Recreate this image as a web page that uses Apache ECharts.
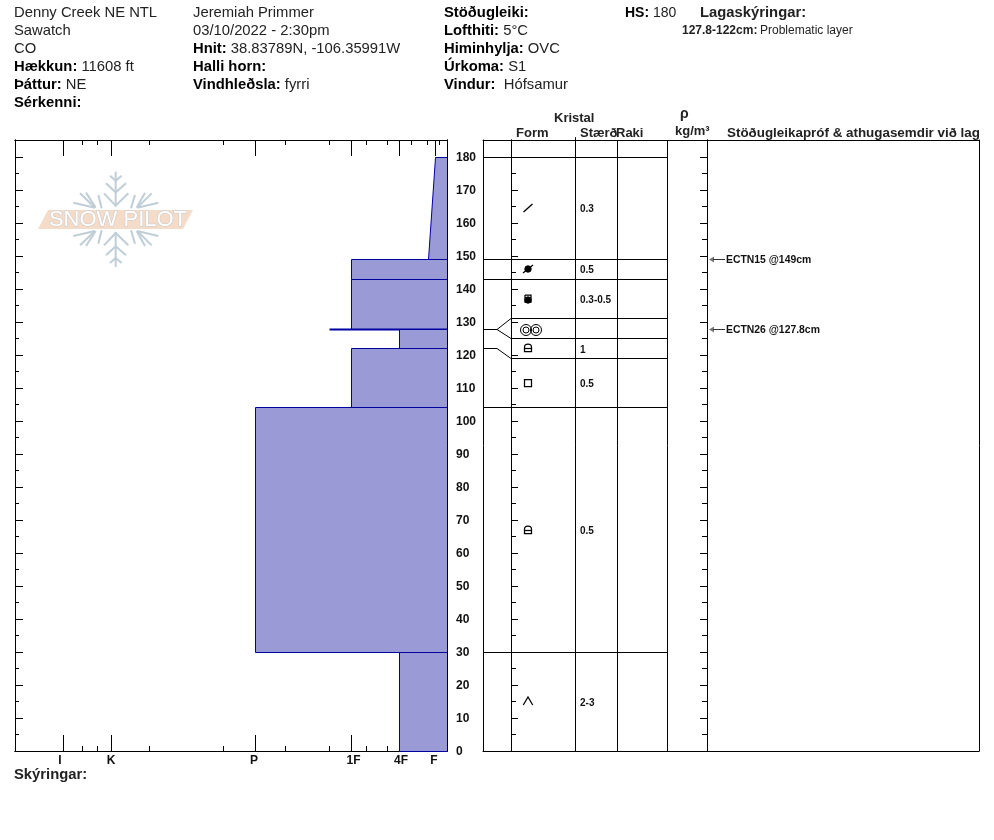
<!DOCTYPE html>
<html><head><meta charset="utf-8">
<style>html,body{margin:0;padding:0;background:#fff}#c{width:994px;height:840px}</style>
<script src="https://cdn.jsdelivr.net/npm/echarts@6/dist/echarts.min.js"></script>
</head><body><div id="c"></div>
<script>
// ---- header text
const headerCol1 = ['Denny Creek NE NTL', 'Sawatch', 'CO', '{b|Hækkun:} 11608 ft', '{b|Þáttur:} NE', '{b|Sérkenni:}'];
const headerCol2 = ['Jeremiah Primmer', '03/10/2022 - 2:30pm', '{b|Hnit:} 38.83789N, -106.35991W', '{b|Halli horn:}', '{b|Vindhleðsla:} fyrri'];
const headerCol3 = ['{b|Stöðugleiki:}', '{b|Lofthiti:} 5°C', '{b|Himinhylja:} OVC', '{b|Úrkoma:} S1', '{b|Vindur:}  Hófsamur'];
// ---- hardness scale
const hardnessNames = ['I', 'K', 'P', '1F', '4F', 'F'];
const hardnessTicks = [48, 96, 240, 336, 384, 420];
const hardnessLabelAt = [45, 96, 239, 338.5, 386, 419];
const hardnessMinorTicks = [67, 82.5, 134.5, 208.5, 270.5, 314, 351.5, 372.5, 396.5, 412.5, 424.5];
// ---- layers, top to bottom: real depths (cm)
const layerTops = [180, 149, 143, 127.8, 127.8, 122, 104, 30];
const layerBottoms = [149, 143, 127.8, 127.8, 122, 104, 30, 0];
const hardnessTop = [420, 336, 336, 314, 384, 336, 240, 384];
const hardnessBottom = [413, 336, 336, 314, 384, 336, 240, 384];
// ---- crystal table rows: spread depths used in the table
const tableTops = [180, 149, 143, 131, 125, 119, 104, 30];
const tableBottoms = [149, 143, 131, 125, 119, 104, 30, 0];
const crystalForms = ['slash', 'slashDot', 'cupDot', 'melt', 'facet', 'square', 'facet', 'caret'];
const crystalSizes = ['0.3', '0.5', '0.3-0.5', '', '1', '0.5', '0.5', '2-3'];
const testDepths = [149, 127.8];
const testLabels = ['ECTN15 @149cm', 'ECTN26 @127.8cm'];
// ---- height axis
const depthMax = 185.15;
const depthMajor = [0,10,20,30,40,50,60,70,80,90,100,110,120,130,140,150,160,170,180];
const depthMinor = [5,15,25,35,45,55,65,75,85,95,105,115,125,135,145,155,165,175];
// ---- table columns, in panel units
const columnStops = [28, 92, 134, 184, 224];

const FONT = '"Liberation Sans", Arial, sans-serif';
const BLACK = '#000';
const NAVY = '#0000a0';
const FILL = '#9a9ad6';
const crisp = v => Math.round(v) + 0.5;
const crispY = v => Math.floor(v + 0.2) + 0.5;

function txt(x, y, text, size, bold, extra) {
  return Object.assign({
    type: 'text', x, y, silent: true,
    style: {
      text, fill: '#222', font: (bold ? 'bold ' : '') + size + 'px ' + FONT,
      textVerticalAlign: 'middle', verticalAlign: 'middle',
      rich: { b: { fontWeight: 'bold', fontSize: size, fontFamily: FONT, fill: '#000', color: '#000' } }
    }
  }, extra || {});
}
const graphics = [];
const rowY = i => 13 + i * 18;
const HSIZE = 14.8;
headerCol1.forEach((t, i) => graphics.push(txt(14, rowY(i), t, HSIZE)));
headerCol2.forEach((t, i) => graphics.push(txt(193, rowY(i), t, HSIZE)));
headerCol3.forEach((t, i) => graphics.push(txt(444, rowY(i), t, HSIZE)));
graphics.push(txt(625, 13, '{b|HS:} 180', 14));
graphics.push(txt(700, 13, 'Lagaskýringar:', HSIZE, true));
graphics.push(txt(682, 31, '127.8-122cm:', 12, true));
graphics.push(txt(760, 31, 'Problematic layer', 12));
graphics.push(txt(554, 118, 'Kristal', 13, true));
graphics.push(txt(516, 133, 'Form', 13, true));
graphics.push(txt(580, 133, 'Stærð', 13, true));
graphics.push(txt(616, 133, 'Raki', 13, true));
graphics.push(txt(680, 114, 'ρ', 14, true));
graphics.push(txt(675, 131, 'kg/m³', 13, true));
graphics.push(txt(727, 133, 'Stöðugleikapróf & athugasemdir við lag', 13.4, true));
graphics.push(txt(14, 775, 'Skýringar:', HSIZE, true));

// Snow Pilot logo
(function () {
  const C = '#bfced7';
  const seg = (pts, w) => ({ type: 'polyline', silent: true,
    shape: { points: pts.map(p => [30 + p[0] / 3, 160 + p[1] / 3]) },
    style: { stroke: C, lineWidth: w || 2, fill: null } });
  const arms = [
    [[257,35],[257,140]], [[240,47],[257,62],[275,47]], [[228,70],[257,97],[288,70]], [[222,100],[257,137],[295,100]],
    [[130,128],[195,143]], [[150,100],[195,143]], [[168,98],[197,143]], [[205,105],[215,145]],
    [[385,128],[322,143]], [[365,100],[322,143]], [[345,98],[320,143]], [[315,105],[303,145]]
  ];
  arms.forEach(a => {
    graphics.push(seg(a));
    graphics.push(seg(a.map(p => [p[0], 356 - p[1]])));
  });
  graphics.push({ type: 'polygon', silent: true,
    shape: { points: [[48,210],[193,210],[183,229],[38,229]] },
    style: { fill: '#f4dcc9' } });
  graphics.push({ type: 'text', x: 118, y: 219.5, silent: true,
    style: { text: 'SNOW PILOT', align: 'center', verticalAlign: 'middle', textAlign: 'center', textVerticalAlign: 'middle',
      font: '22px ' + FONT, fill: '#fff', stroke: '#c3c8cc', lineWidth: 1 } });
})();

const tickAxis = (base, common) => Object.assign({}, common, base);
const xCommon0 = { gridIndex: 0, type: 'value', min: 0, max: 432, splitLine: { show: false },
  axisLine: { show: true, onZero: false, lineStyle: { color: BLACK, width: 1 } } };
const noLabel = { show: false };
const xLong = (pos, showLabels) => tickAxis({
  position: pos,
  axisTick: { show: true, inside: true, length: 16, lineStyle: { color: BLACK }, customValues: hardnessTicks },
  axisLabel: showLabels ? {
    show: true, margin: 4, customValues: hardnessLabelAt, fontFamily: FONT, fontWeight: 'bold', fontSize: 12, color: '#111',
    formatter: v => hardnessNames[hardnessLabelAt.indexOf(v)] || ''
  } : noLabel
}, xCommon0);
const xShort = pos => tickAxis({
  position: pos,
  axisTick: { show: true, inside: true, length: 5, lineStyle: { color: BLACK }, customValues: hardnessMinorTicks },
  axisLabel: noLabel
}, xCommon0);

const yAxisFor = (grid, pos, offset, values, len, labels) => ({
  gridIndex: grid, type: 'value', min: 0, max: depthMax, position: pos, offset,
  splitLine: { show: false },
  axisLine: { show: true, onZero: false, lineStyle: { color: BLACK, width: 1 } },
  axisTick: { show: true, inside: true, length: len, lineStyle: { color: BLACK }, customValues: values },
  axisLabel: labels ? { show: true, margin: 9, verticalAlign: 'top', padding: [-5, 0, 0, 0], customValues: depthMajor, fontFamily: FONT, fontWeight: 'bold', fontSize: 12, color: '#111' } : noLabel
});

function hardnessItem(params, api) {
  const i = api.value(0);
  const t = layerTops[i], b = layerBottoms[i];
  const pts = [
    api.coord([hardnessBottom[i], b]), api.coord([432, b]),
    api.coord([432, t]), api.coord([hardnessTop[i], t])
  ].map(p => [p[0], crispY(p[1])]);
  pts[0][0] = crisp(pts[0][0]); pts[3][0] = crisp(pts[3][0]);
  const thin = t === b;
  return { type: 'group', children: [
    { type: 'polygon', shape: { points: pts }, style: { fill: FILL } },
    { type: 'polyline', shape: { points: [pts[1], pts[0], pts[3], pts[2]] },
      style: { stroke: NAVY, lineWidth: thin ? 2 : 1, fill: null } }
  ] };
}

function formShape(kind, c) {
  const [x, y] = c;
  const W = 1.25;
  const ln = (pts) => ({ type: 'polyline', shape: { points: pts.map(p => [x + p[0], y + p[1]]) }, style: { stroke: BLACK, lineWidth: W, fill: null } });
  const circ = (cx, cy, r, fill) => ({ type: 'circle', shape: { cx: x + cx, cy: y + cy, r }, style: { stroke: BLACK, lineWidth: 1, fill: fill ? BLACK : 'none' } });
  const facet = () => [
    { type: 'path', shape: { pathData: `M${x-3.5} ${y+3.5}L${x-3.5} ${y-1}Q${x-3.5} ${y-4} ${x} ${y-4}Q${x+3.5} ${y-4} ${x+3.5} ${y-1}L${x+3.5} ${y+3.5}Z`, layout: 'none' }, style: { stroke: BLACK, lineWidth: W, fill: 'none' } },
    ln([[-3.5, 0.5], [3.5, 0.5]])
  ];
  switch (kind) {
    case 'slash': return [ln([[-4.5, 4], [4.5, -4]])];
    case 'slashDot': return [ln([[-5, 4], [5, -4]]), circ(0, 0, 3.2, true)];
    case 'cupDot': return [ln([[-3, -4], [3, -4], [3, 3], [-3, 3], [-3, -4]]), circ(0, 1, 3.2, true)];
    case 'melt': return [circ(-2, 1, 5.5), circ(-2, 1, 3), circ(8, 1, 5.5), circ(8, 1, 3)];
    case 'facet': return facet();
    case 'square': return [{ type: 'rect', shape: { x: x - 3.5, y: y - 3.5, width: 7, height: 7 }, style: { stroke: BLACK, lineWidth: W, fill: 'none' } }];
    case 'caret': return [ln([[-4.7, 4], [0, -4], [4.7, 4]])];
  }
  return [];
}
function hl(a, b) { return { type: 'line', shape: { x1: a[0], y1: a[1], x2: b[0], y2: b[1] }, style: { stroke: BLACK, lineWidth: 1 } }; }
function crystalItem(params, api) {
  const i = api.value(0);
  const kids = [];
  // layer top line, bent from the real depth to the table row
  const real = layerTops[i], row = tableTops[i];
  const p0 = api.coord([0, real]), p1 = api.coord([14, real]), p2 = api.coord([28, row]), p3 = api.coord([184, row]);
  [p0, p1, p2, p3].forEach(p => { p[1] = crispY(p[1]); });
  kids.push({ type: 'polyline', shape: { points: [p0, p1, p2, p3] }, style: { stroke: BLACK, lineWidth: 1, fill: null } });
  const mid = (tableTops[i] + tableBottoms[i]) / 2;
  const c = api.coord([45, mid]);
  kids.push.apply(kids, formShape(crystalForms[i], [Math.round(c[0]), Math.round(c[1])]));
  const s = api.coord([97, mid]);
  kids.push({ type: 'text', x: s[0], y: s[1] + 1.5, style: { text: crystalSizes[i], font: 'bold 10px ' + FONT, fill: '#111', verticalAlign: 'middle', textVerticalAlign: 'middle' } });
  return { type: 'group', children: kids };
}
function columnItem(params, api) {
  const x = api.value(0);
  const overshoot = x === 92 ? 186 : depthMax;
  const a = api.coord([x, overshoot]), b = api.coord([x, 0]);
  return hl([crisp(a[0]), a[1]], [crisp(b[0]), b[1]]);
}
function testItem(params, api) {
  const i = api.value(0);
  const a = api.coord([226, testDepths[i]]), b = api.coord([242, testDepths[i]]);
  const y = crispY(a[1]);
  return { type: 'group', children: [
    { type: 'polygon', shape: { points: [[a[0], y], [a[0] + 5, y - 3], [a[0] + 5, y + 3]] }, style: { fill: '#777' } },
    { type: 'line', shape: { x1: a[0] + 4, y1: y, x2: b[0], y2: y }, style: { stroke: '#333', lineWidth: 1 } },
    { type: 'text', x: b[0] + 1, y: y + 1, style: { text: testLabels[i], font: 'bold 10.4px ' + FONT, fill: '#111', verticalAlign: 'middle', textVerticalAlign: 'middle' } }
  ] };
}

const option = {
  animation: false,
  backgroundColor: '#fff',
  textStyle: { fontFamily: FONT },
  graphic: { elements: graphics },
  grid: [
    { left: 15, top: 140, width: 432, height: 611, show: false },
    { left: 483, top: 140, width: 496, height: 611, show: false }
  ],
  xAxis: [
    xLong('bottom', true), xShort('bottom'), xLong('top', false), xShort('top'),
    { gridIndex: 1, type: 'value', min: 0, max: 496, position: 'bottom', splitLine: { show: false },
      axisLine: { show: true, onZero: false, lineStyle: { color: BLACK } }, axisTick: { show: false }, axisLabel: noLabel },
    { gridIndex: 1, type: 'value', min: 0, max: 496, position: 'top', splitLine: { show: false },
      axisLine: { show: true, onZero: false, lineStyle: { color: BLACK } }, axisTick: { show: false }, axisLabel: noLabel }
  ],
  yAxis: [
    yAxisFor(0, 'left', 0, depthMajor, 8), yAxisFor(0, 'left', 0, depthMinor, 4),
    yAxisFor(0, 'right', 0, depthMajor, 8, true), yAxisFor(0, 'right', 0, depthMinor, 4),
    yAxisFor(1, 'left', -28, depthMajor, 7), yAxisFor(1, 'left', -28, depthMinor, 5),
    yAxisFor(1, 'right', -272, depthMajor, 7), yAxisFor(1, 'right', -272, depthMinor, 5),
    Object.assign(yAxisFor(1, 'left', 0, [], 0), { axisTick: { show: false } }),
    Object.assign(yAxisFor(1, 'right', 0, [], 0), { axisTick: { show: false } })
  ],
  series: [
    { type: 'custom', name: 'Hardness', xAxisIndex: 0, yAxisIndex: 0, coordinateSystem: 'cartesian2d', clip: false, silent: true, z: 1,
      renderItem: hardnessItem, data: layerTops.map((v, i) => [i]) , encode: { x: 0, y: 0 } },
    { type: 'custom', name: 'Crystals', xAxisIndex: 4, yAxisIndex: 4, coordinateSystem: 'cartesian2d', clip: false, silent: true, z: 3,
      renderItem: crystalItem, data: layerTops.map((v, i) => [i]), encode: { x: 0, y: 0 } },
    { type: 'custom', name: 'Columns', xAxisIndex: 4, yAxisIndex: 4, coordinateSystem: 'cartesian2d', clip: false, silent: true, z: 3,
      renderItem: columnItem, data: columnStops.map(v => [v]), encode: { x: 0, y: 0 } },
    { type: 'custom', name: 'Tests', xAxisIndex: 4, yAxisIndex: 4, coordinateSystem: 'cartesian2d', clip: false, silent: true, z: 3,
      renderItem: testItem, data: testDepths.map((v, i) => [i]), encode: { x: 0, y: 0 } }
  ]
};
const chart = echarts.init(document.getElementById('c'), null, { renderer: 'canvas' });
chart.setOption(option);
</script></body></html>
